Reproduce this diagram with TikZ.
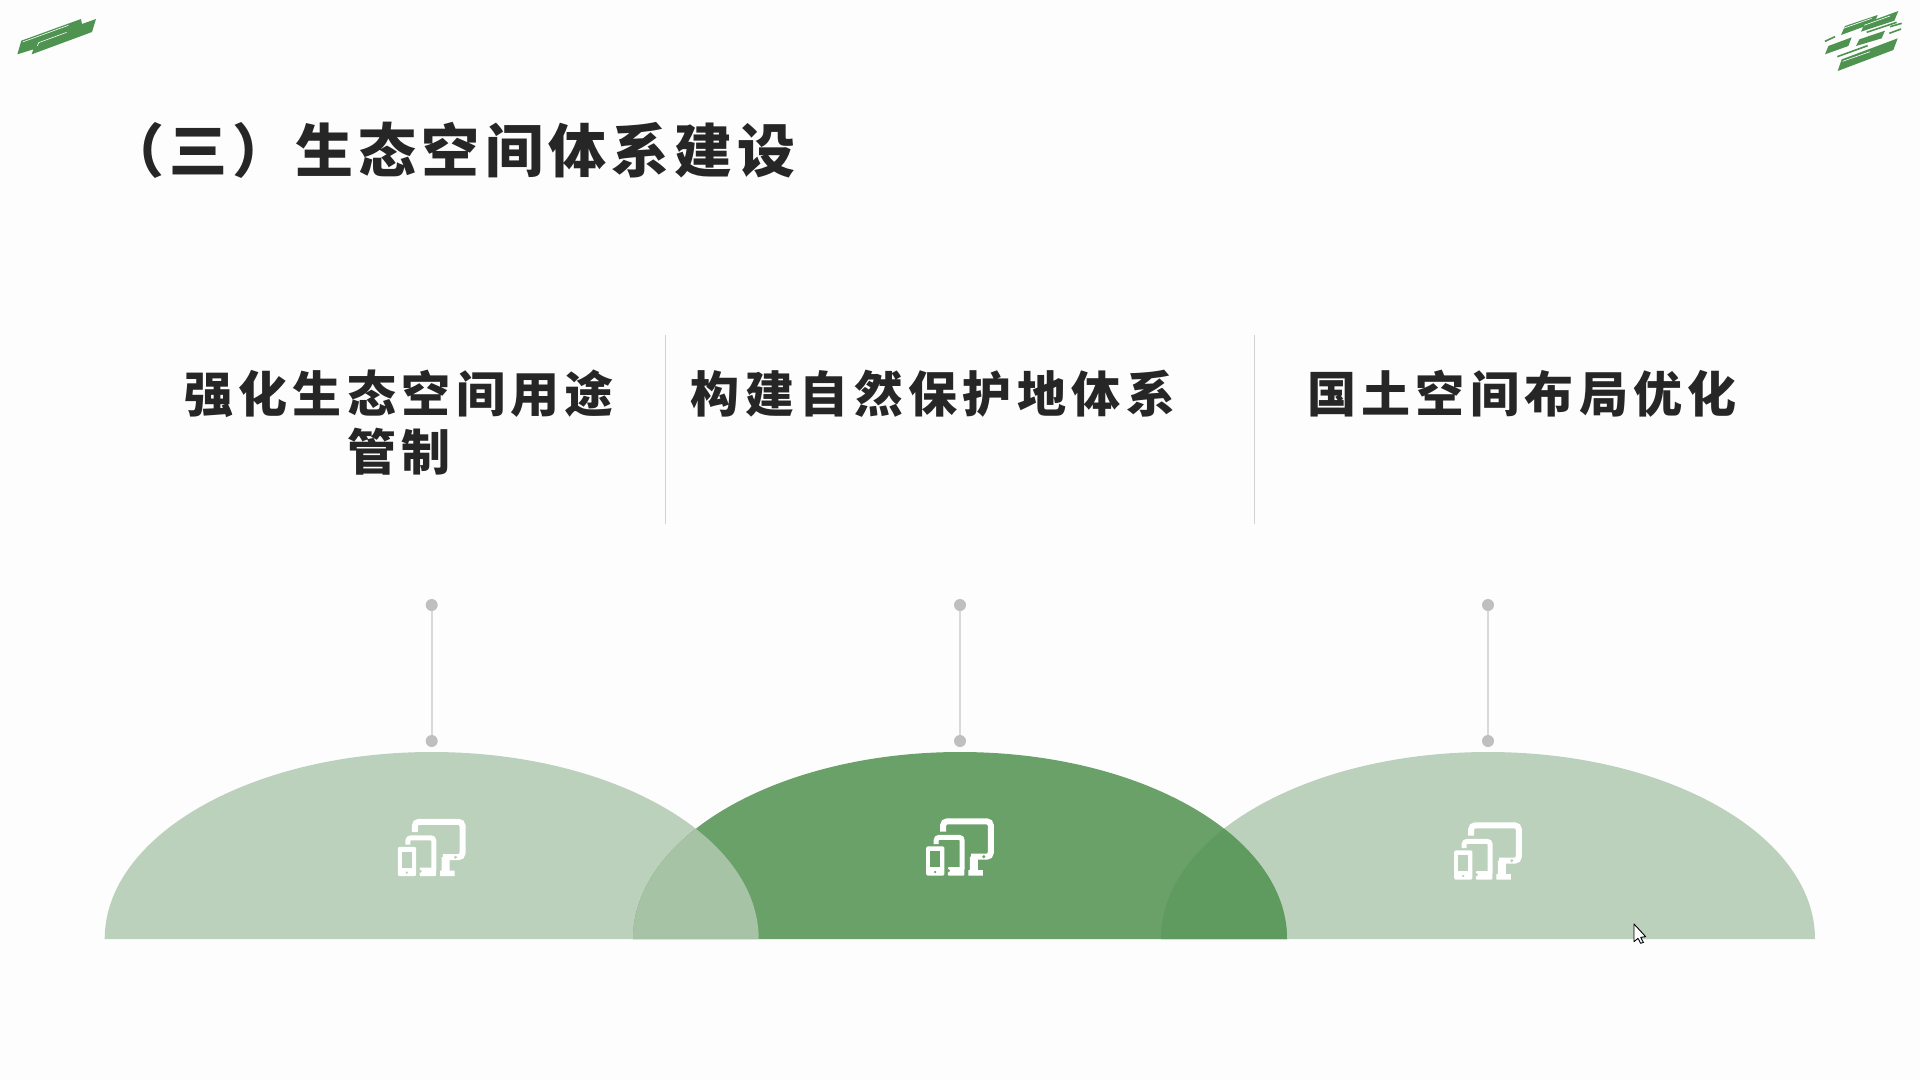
\documentclass[tikz,border=0pt]{standalone}
\usepackage{fontspec}
\newfontfamily\titlefont[LetterSpace=8.9]{Noto Sans CJK SC}
\newfontfamily\headfont[LetterSpace=11]{Noto Sans CJK SC}
\definecolor{domelight}{HTML}{BBD1BC}
\definecolor{domemid}{HTML}{69A169}
\definecolor{overleft}{HTML}{A6C3A5}
\definecolor{overright}{HTML}{5F9A5F}
\definecolor{logogreen}{HTML}{4E9350}
\definecolor{inktext}{HTML}{262626}
\definecolor{paperbg}{HTML}{FDFDFD}
\newcommand{\domepath}[1]{(#1-327,939) arc[start angle=180,end angle=360,x radius=327,y radius=187] -- cycle}
\tikzset{
	headtext/.style={text=inktext,align=center,font=\headfont\bfseries\fontsize{49}{58}\selectfont,inner sep=0pt},
	tipdot/.style={circle,fill=black!25,minimum size=12pt,inner sep=0pt},
	tipline/.style={color=black!15,line width=1.6pt},
	divider/.style={color=black!18,line width=1.4pt},
	logoshape/.style={fill=logogreen},
	logoshine/.style={color=white,line width=.6pt},
	logobar/.style={color=logogreen,line width=1.6pt},
	devicesicon/.pic={
		\begin{scope}[shift={(-52.2,-58)},scale=1/3]
			\draw[white,line width=6pt,rounded corners=4pt] (106,128) -- (106,97) -- (249,97) -- (249,203) -- (190,203);
			\fill[white] (186,203) rectangle (210,250) (182,243) rectangle (225,260);
			\fill[#1] (228,203) circle (5);
			\draw[white,line width=5pt,rounded corners=3pt] (85,165) -- (85,145) -- (163,145) -- (163,240);
			\fill[white,rounded corners=1pt] (120,234) rectangle (170,260);
			\fill[#1] (122,245) circle (5);
			\fill[white,rounded corners=2pt] (55,172) rectangle (110,260);
			\fill[#1] (67,187) rectangle (98,235);
			\fill[#1] (82,249) circle (4);
		\end{scope}
	}
}
\begin{document}
\begin{tikzpicture}[x=1pt,y=-1pt]
	\fill[paperbg] (0,0) rectangle (1920,1080);
	\useasboundingbox (0,0) rectangle (1920,1080);
	% domes
	\fill[domelight] \domepath{431.7};
	\fill[domelight] \domepath{1488};
	\fill[domemid] \domepath{960};
	\begin{scope}
		\clip \domepath{960};
		\fill[overleft] \domepath{431.7};
		\fill[overright] \domepath{1488};
	\end{scope}
	% icons
	\pic at (431.7,847.5) {devicesicon=domelight};
	\pic at (960,847) {devicesicon=domemid};
	\pic at (1488,851) {devicesicon=domelight};
	% dots and their lines
	\foreach \name/\x in {a/431.7,b/960,c/1488}{
		\node[tipdot] (top\name) at (\x,605) {};
		\node[tipdot] (low\name) at (\x,741) {};
		\draw[tipline] (top\name) -- (low\name);
	}
	% dividers
	\coordinate (sepa) at (665.5,335);
	\coordinate (sepb) at (665.5,524);
	\coordinate (sepc) at (1254.5,335);
	\coordinate (sepd) at (1254.5,524);
	\draw[divider] (sepa) -- (sepb);
	\draw[divider] (sepc) -- (sepd);
	% texts
	\node[anchor=west,text=inktext,inner sep=0pt,font=\titlefont\bfseries\fontsize{58}{60}\selectfont] (title) at (106,150) {（三）生态空间体系建设};
	\node[headtext,anchor=north] (heada) at (399,370) {强化生态空间用途\\管制};
	\node[headtext,anchor=north] (headb) at (933,370) {构建自然保护地体系};
	\node[headtext,anchor=north] (headc) at (1522,370) {国土空间布局优化};
	% logo left
	\begin{scope}[shift={(0,0)},scale=1/3]
		\fill[logoshape] (52,163) -- (64,122) -- (243,57) -- (246,72) -- (288,57) -- (276,96) -- (95,163) -- (100,148) -- cycle;
		\draw[logoshine] (68,126) -- (205,76);
		\draw[logoshine] (112,138) -- (116,128) -- (200,97);
	\end{scope}
	% logo right
	\begin{scope}[shift={(1800,0)},scale=1/3]
		\fill[logoshape] (123,105) -- (135,78) -- (233,45) -- (224,68) -- cycle;
		\fill[logoshape] (183,95) -- (194,70) -- (295,33) -- (283,62) -- cycle;
		\fill[logoshape] (75,163) -- (85,138) -- (155,112) -- (145,138) -- cycle;
		\fill[logoshape] (168,138) -- (178,118) -- (255,92) -- (245,115) -- cycle;
		\fill[logoshape] (113,213) -- (125,178) -- (293,115) -- (280,150) -- cycle;
		\draw[logobar] (75,124) -- (105,110);
		\draw[logobar] (200,97) -- (290,67);
		\draw[logobar] (270,80) -- (305,70);
		\draw[logobar] (268,100) -- (303,87);
		\draw[logobar] (112,170) -- (203,137);
		\draw[logoshine] (130,85) -- (215,55);
		\draw[logoshine] (192,76) -- (270,48);
		\draw[logoshine] (128,184) -- (210,155);
	\end{scope}
	% cursor
	\begin{scope}[shift={(1610,910)},scale=1/3]
		\filldraw[fill=white,draw=black,line width=.9pt,line join=round] (72,42) -- (72,95) -- (84,85) -- (92,100) -- (100,97) -- (92,82) -- (107,80) -- cycle;
	\end{scope}
\end{tikzpicture}
\end{document}
